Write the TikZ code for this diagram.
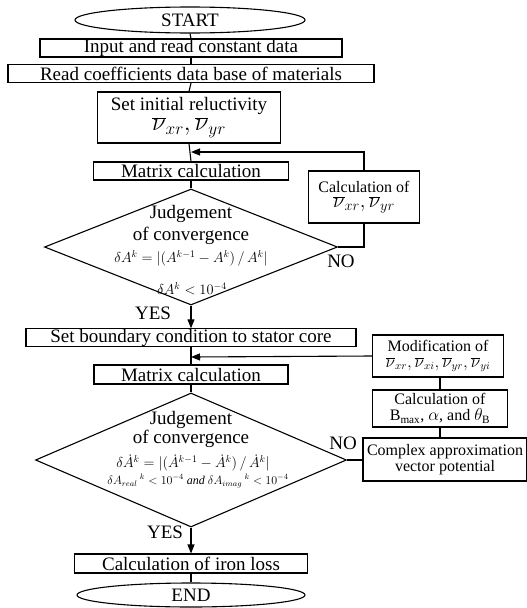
\documentclass[tikz,border=0pt]{standalone}
\usepackage{fontspec}
\setmainfont{Liberation Serif}
\usetikzlibrary{arrows.meta, shapes.geometric, calc}
\tikzset{
  every picture/.style={line width=1.1pt},
  term/.style={draw, ellipse, inner sep=0pt},
  proc/.style={draw, rectangle, inner sep=0pt, align=center},
  decide/.style={draw, diamond, inner sep=0pt},
  dtext/.style={align=center, inner sep=0pt},
  arrow/.style={-{Triangle[length=9pt, width=7pt]}},
  small/.style={font=\fontsize{16}{18}\selectfont},
  formula/.style={inner sep=0pt, font=\fontsize{14.5}{16}\selectfont},
}

\begin{document}
\begin{tikzpicture}[x=1pt, y=-1pt, font=\fontsize{19}{21}\selectfont]
  \useasboundingbox (0,0) rectangle (527,608);
  \node[term, minimum width=230pt, minimum height=26pt] (start) at (190,20) {START};
  \node[proc, minimum width=302pt, minimum height=18pt] (input) at (191,48) {Input and read constant data};
  \node[proc, minimum width=366pt, minimum height=18pt] (read) at (191,73.5) {Read coefficients data base of materials};
  \node[proc, minimum width=183pt, minimum height=51pt] (init) at (189,117.5) {Set initial reluctivity\\[-1pt] {\fontsize{23}{25}\selectfont $\overline{\nu}_{xr},\overline{\nu}_{yr}$}};
  \node[proc, minimum width=195pt, minimum height=18pt] (mat1) at (191,171) {Matrix calculation};
  \node[decide, minimum width=293pt, minimum height=116pt] (dec1) at (191,247) {};
  \node[dtext] (dec1a) at (191,214) {Judgement};
  \node[dtext] (dec1b) at (191,236) {of convergence};
  \node[formula] (dec1c) at (191,258) {$\delta A^{k}=\bigl|(A^{k-1}-A^{k})\,/\,A^{k}\bigr|$};
  \node[formula] (dec1d) at (192,289) {$\delta A^{k}<10^{-4}$};
  \node[proc, small, minimum width=111pt, minimum height=52pt] (calc1) at (364,197) {Calculation of\\[-3pt] {\fontsize{22}{24}\selectfont $\overline{\nu}_{xr},\overline{\nu}_{yr}$}};
  \coordinate (j1) at (191,152);
  \node (no1) at (341,261) {NO};
  \node (yes1) at (153,313) {YES};
  \node[proc, minimum width=330pt, minimum height=17pt] (bound) at (191,337.5) {Set boundary condition to stator core};
  \coordinate (j2) at (191,357);
  \node[proc, minimum width=194pt, minimum height=19pt] (mat2) at (191,374.5) {Matrix calculation};
  \node[decide, minimum width=311pt, minimum height=134pt] (dec2) at (191,460) {};
  \node[dtext] (dec2a) at (191,420) {Judgement};
  \node[dtext] (dec2b) at (191,439) {of convergence};
  \node[formula] (dec2c) at (193,463) {$\delta\dot{A}^{k}=\bigl|(\dot{A}^{k-1}-\dot{A}^{k})\,/\,\dot{A}^{k}\bigr|$};
  \node[formula, font=\fontsize{12}{14}\selectfont] (dec2d) at (198,481) {$\delta A_{real}{}^{\;k}<10^{-4}\ \mathit{and}\ \delta A_{imag}{}^{\;k}<10^{-4}$};
  \node[proc, small, minimum width=131pt, minimum height=42pt] (mod) at (438,356) {Modification of\\[-2pt] $\overline{\nu}_{xr},\overline{\nu}_{xi},\overline{\nu}_{yr},\overline{\nu}_{yi}$};
  \node[proc, small, minimum width=135pt, minimum height=37pt] (calcB) at (440,408.5) {Calculation of\\[-2pt] B$_{\mathrm{max}}$, $\alpha$, and $\theta_{\mathrm{B}}$};
  \node[proc, small, minimum width=164pt, minimum height=43pt] (cplx) at (445,459.5) {Complex approximation\\[-2pt] vector potential};
  \node (no2) at (343,443) {NO};
  \node (yes2) at (165,532) {YES};
  \node[proc, minimum width=233pt, minimum height=19pt] (iron) at (191,563.5) {Calculation of iron loss};
  \node[term, minimum width=228pt, minimum height=24pt] (endt) at (191,595) {END};
  \foreach \a/\b in {start/input, input/read, read/init, init/mat1, mat1/dec1, bound/mat2, mat2/dec2, iron/endt}
    \draw (\a.south) -- (\b.north);
  \draw[arrow] (dec1.south) -- (bound.north);
  \draw[arrow] (dec2.south) -- (iron.north);
  \draw (dec1.east) -| (calc1.south);
  \draw[arrow] (calc1.north) |- (j1);
  \draw (dec2.east) -- (dec2.east -| cplx.west);
  \draw (calcB.south) -- (calcB.south |- cplx.north);
  \draw (calcB.north) -- (calcB.north |- mod.south);
  \draw[arrow] (mod.west) -- (j2);
\end{tikzpicture}
\end{document}
